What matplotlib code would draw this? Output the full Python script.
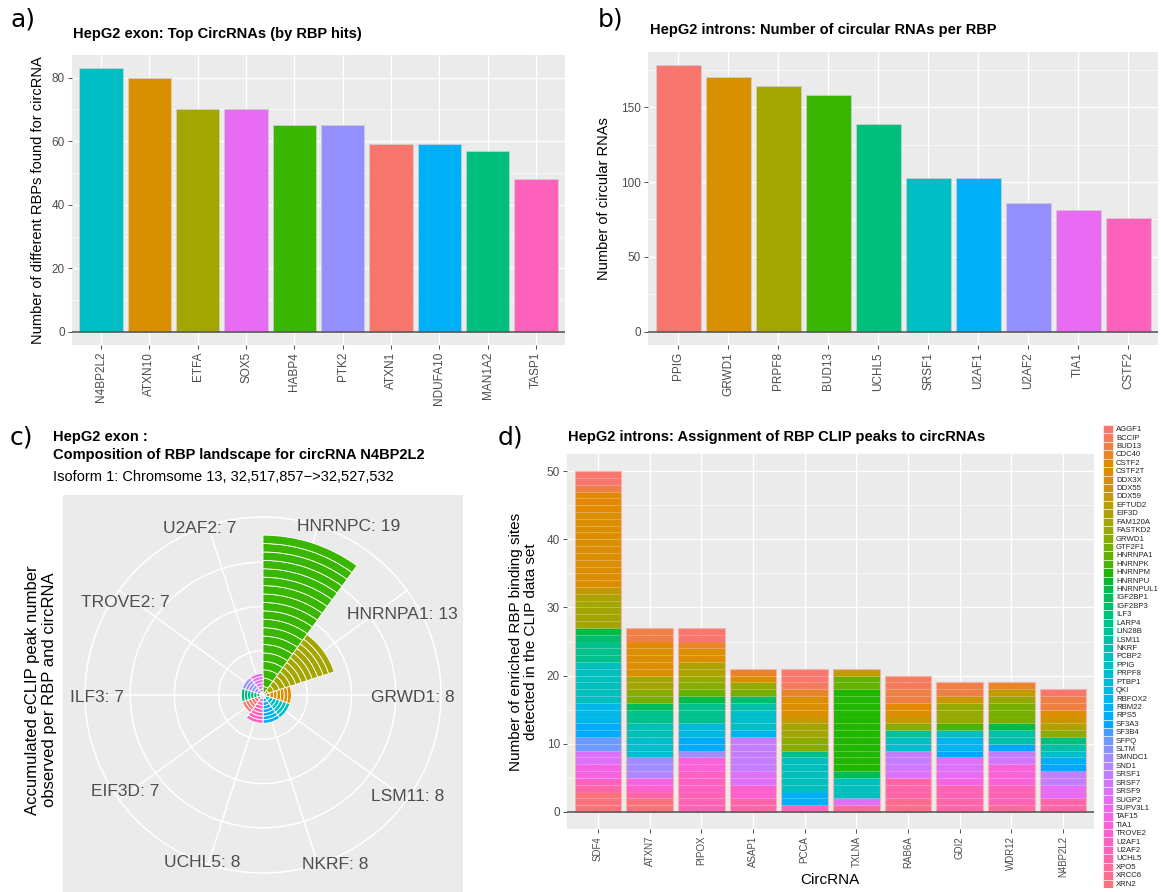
import numpy as np
import matplotlib
matplotlib.use('Agg')
import matplotlib.pyplot as plt
from matplotlib.patches import Rectangle

plt.rcParams['font.family'] = ['Liberation Sans', 'DejaVu Sans']

# ---------------- data ----------------
# a) HepG2 exon: top circRNAs by RBP hits
circ_a = ['N4BP2L2', 'ATXN10', 'ETFA', 'SOX5', 'HABP4', 'PTK2', 'ATXN1', 'NDUFA10', 'MAN1A2', 'TASP1']
hits_a = [83, 80, 70, 70, 65, 65, 59, 59, 57, 48]

# b) HepG2 introns: circular RNAs per RBP
rbp_b = ['PPIG', 'GRWD1', 'PRPF8', 'BUD13', 'UCHL5', 'SRSF1', 'U2AF1', 'U2AF2', 'TIA1', 'CSTF2']
ncirc_b = [178, 170, 164, 158, 139, 103, 103, 86, 81, 76]

# c) RBP landscape for circRNA N4BP2L2 (polar)
rbp_c = ['HNRNPC', 'HNRNPA1', 'GRWD1', 'LSM11', 'NKRF', 'UCHL5', 'EIF3D', 'ILF3', 'TROVE2', 'U2AF2']
peaks_c = [19, 13, 8, 8, 8, 8, 7, 7, 7, 7]
seg_height_c = [0.95, 0.65, 0.40, 0.40, 0.40, 0.40, 0.35, 0.35, 0.35, 0.35]
# label placement (angle in degrees, radius in r units)
label_ang_c = [27, 60, 91, 125, 157, 200, 235, 269, 304, 339]
label_rad_c = [21.3, 18.2, 16.9, 19.9, 20.8, 20.1, 19.0, 18.7, 18.7, 20.1]

# d) HepG2 introns: RBP CLIP peaks per circRNA
rbp_levels = ['AGGF1', 'BCCIP', 'BUD13', 'CDC40', 'CSTF2', 'CSTF2T', 'DDX3X', 'DDX55', 'DDX59',
              'EFTUD2', 'EIF3D', 'FAM120A', 'FASTKD2', 'GRWD1', 'GTF2F1', 'HNRNPA1', 'HNRNPK',
              'HNRNPM', 'HNRNPU', 'HNRNPUL1', 'IGF2BP1', 'IGF2BP3', 'ILF3', 'LARP4', 'LIN28B',
              'LSM11', 'NKRF', 'PCBP2', 'PPIG', 'PRPF8', 'PTBP1', 'QKI', 'RBFOX2', 'RBM22',
              'RPS5', 'SF3A3', 'SF3B4', 'SFPQ', 'SLTM', 'SMNDC1', 'SND1', 'SRSF1', 'SRSF7',
              'SRSF9', 'SUGP2', 'SUPV3L1', 'TAF15', 'TIA1', 'TROVE2', 'U2AF1', 'U2AF2', 'UCHL5',
              'XPO5', 'XRCC6', 'XRN2']
circ_d = ['SDF4', 'ATXN7', 'PIPOX', 'ASAP1', 'PCCA', 'TXLNA', 'RAB6A', 'GDI2', 'WDR12', 'N4BP2L2']
# (RBP, peaks); top of each stack first
peaks_sdf4 = [('AGGF1', 2), ('BUD13', 1), ('CSTF2', 3), ('CSTF2T', 11), ('DDX59', 1), ('EIF3D', 1),
              ('FAM120A', 4), ('HNRNPUL1', 1), ('IGF2BP3', 1), ('LARP4', 3), ('PCBP2', 6), ('QKI', 3),
              ('RPS5', 2), ('SFPQ', 2), ('SRSF9', 2), ('TAF15', 2), ('U2AF1', 1), ('UCHL5', 1), ('XRN2', 3)]
peaks_atxn7 = [('BUD13', 2), ('CSTF2', 1), ('CSTF2T', 4), ('FAM120A', 2), ('GRWD1', 1), ('GTF2F1', 1),
               ('IGF2BP1', 1), ('LARP4', 2), ('NKRF', 2), ('PPIG', 2), ('PRPF8', 1), ('SMNDC1', 2),
               ('SND1', 1), ('TAF15', 1), ('TROVE2', 1), ('UCHL5', 1), ('XRN2', 2)]
peaks_pipox = [('AGGF1', 2), ('CDC40', 1), ('CSTF2T', 2), ('EIF3D', 2), ('FASTKD2', 1), ('GRWD1', 1),
               ('HNRNPA1', 1), ('HNRNPUL1', 1), ('LARP4', 3), ('PTBP1', 2), ('RPS5', 2), ('SMNDC1', 1),
               ('TIA1', 2), ('U2AF1', 3), ('U2AF2', 3)]
peaks_asap1 = [('CDC40', 1), ('CSTF2T', 1), ('FASTKD2', 1), ('GTF2F1', 1), ('IGF2BP3', 1), ('LSM11', 1),
               ('PPIG', 3), ('RBFOX2', 1), ('SRSF1', 5), ('SRSF9', 2), ('TROVE2', 2), ('UCHL5', 2)]
peaks_pcca = [('AGGF1', 2), ('BCCIP', 1), ('CDC40', 1), ('CSTF2T', 3), ('DDX59', 1), ('FAM120A', 2),
              ('GRWD1', 2), ('LARP4', 1), ('PCBP2', 5), ('RBM22', 2), ('U2AF2', 1)]
peaks_txlna = [('DDX59', 1), ('HNRNPA1', 2), ('HNRNPM', 12), ('IGF2BP1', 1), ('PCBP2', 3),
               ('SRSF9', 1), ('XPO5', 1)]
peaks_rab6a = [('BCCIP', 2), ('BUD13', 2), ('CSTF2', 1), ('CSTF2T', 1), ('DDX59', 1), ('GRWD1', 1),
               ('LIN28B', 1), ('PCBP2', 1), ('PPIG', 1), ('SRSF1', 2), ('SRSF7', 1), ('SRSF9', 1),
               ('UCHL5', 3), ('XRCC6', 2)]
peaks_gdi2 = [('BUD13', 2), ('DDX55', 1), ('FASTKD2', 3), ('HNRNPK', 1), ('PCBP2', 1), ('RBFOX2', 2),
              ('SF3A3', 1), ('SRSF9', 2), ('SUGP2', 1), ('TAF15', 1), ('U2AF2', 2), ('UCHL5', 2)]
peaks_wdr12 = [('CDC40', 1), ('DDX59', 1), ('FASTKD2', 1), ('GTF2F1', 3), ('HNRNPUL1', 1), ('LSM11', 2),
               ('SF3A3', 1), ('SRSF1', 1), ('SRSF7', 1), ('TIA1', 3), ('U2AF2', 3), ('XPO5', 1)]
peaks_n4bp2l2 = [('AGGF1', 1), ('BUD13', 2), ('CSTF2T', 1), ('DDX55', 1), ('EIF3D', 1), ('GRWD1', 1),
                 ('ILF3', 1), ('LSM11', 1), ('PPIG', 1), ('RBM22', 1), ('SF3A3', 1), ('SRSF1', 2),
                 ('SUGP2', 2), ('UCHL5', 2)]
peaks_d = [peaks_sdf4, peaks_atxn7, peaks_pipox, peaks_asap1, peaks_pcca,
           peaks_txlna, peaks_rab6a, peaks_gdi2, peaks_wdr12, peaks_n4bp2l2]


# ggplot2 default hue palette (hcl, c=100, l=65)
def hcl_hex(h, c=100.0, l=65.0):
    hr = np.deg2rad(h)
    U, V = c * np.cos(hr), c * np.sin(hr)
    Y = 100.0 * ((l + 16) / 116.0) ** 3
    u = U / (13 * l) + 0.1978398
    v = V / (13 * l) + 0.4683363
    X = 9.0 * Y * u / (4 * v)
    Z = -X / 3 - 5 * Y + 3 * Y / v
    rgb = [(3.240479 * X - 1.537150 * Y - 0.498535 * Z) / 100,
           (-0.969256 * X + 1.875992 * Y + 0.041556 * Z) / 100,
           (0.055648 * X - 0.204043 * Y + 1.057311 * Z) / 100]
    out = []
    for ch in rgb:
        ch = 12.92 * ch if ch <= 0.0031308 else 1.055 * ch ** (1 / 2.4) - 0.055
        out.append(min(max(ch, 0), 1))
    return tuple(out)


def hue_pal(n):
    return [hcl_hex(h) for h in np.linspace(15, 375, n + 1)[:-1]]


W, H = 1161, 892
fig = plt.figure(figsize=(W / 100, H / 100), dpi=100)


def px_axes(x0, y0, x1, y1, **kw):
    return fig.add_axes([x0 / W, 1 - y1 / H, (x1 - x0) / W, (y1 - y0) / H], **kw)


def gg_style(ax, n, ylim, major, minor, labels, xsize=8.5):
    ax.set_facecolor('#EBEBEB')
    for s in ax.spines.values():
        s.set_visible(False)
    ax.set_xlim(-0.6, n - 0.4)
    ax.set_ylim(ylim)
    ax.set_yticks(major)
    ax.set_yticks(minor, minor=True)
    ax.set_xticks(range(n))
    ax.set_xticklabels(labels, rotation=90, va='top', ha='center')
    ax.grid(which='major', color='white', lw=1.0)
    ax.grid(which='minor', axis='y', color='white', lw=0.5)
    ax.set_axisbelow(True)
    ax.tick_params(which='minor', length=0)
    ax.tick_params(which='major', length=3, width=0.6, color='#333333',
                   labelcolor='#4D4D4D', labelsize=8.5, pad=2)
    ax.tick_params(axis='x', labelsize=xsize)
    ax.axhline(0, color='#5A5A5A', lw=1.2, zorder=4)


def tag(x, y, s):
    fig.text(x / W, 1 - y / H, s, fontsize=18, family='DejaVu Sans', ha='left', va='center')


def title(x, y, s, bold=True, size=10.5):
    fig.text(x / W, 1 - y / H, s, fontsize=size, fontweight='bold' if bold else 'normal',
             ha='left', va='center')


# ---------------- a ----------------
pal10 = hue_pal(10)
order_a = sorted(circ_a)
cols_a = [pal10[order_a.index(c)] for c in circ_a]
ax = px_axes(72, 55, 565, 345)
ax.bar(range(len(circ_a)), hits_a, width=0.9, color=cols_a, edgecolor='#D0D0D0', lw=0.5, zorder=2)
gg_style(ax, 10, (-4.15, 87.15), [0, 20, 40, 60, 80], [10, 30, 50, 70], circ_a)
ax.set_ylabel('Number of different RBPs found for circRNA', fontsize=10.5, labelpad=5)
tag(10, 20, 'a)')
title(73, 34, 'HepG2 exon: Top CircRNAs (by RBP hits)')

# ---------------- b ----------------
ax = px_axes(648, 52, 1158, 345)
ax.bar(range(len(rbp_b)), ncirc_b, width=0.9, color=pal10, edgecolor='#D0D0D0', lw=0.5, zorder=2)
gg_style(ax, 10, (-8.9, 186.9), [0, 50, 100, 150], [25, 75, 125, 175], rbp_b)
ax.set_ylabel('Number of circular RNAs', fontsize=10.5, labelpad=7)
tag(598, 20, 'b)')
title(650, 30, 'HepG2 introns: Number of circular RNAs per RBP')

# ---------------- c ----------------
fig.patches.append(Rectangle((63 / W, 1 - 895 / H), 400 / W, 400 / H, transform=fig.transFigure,
                             facecolor='#EBEBEB', edgecolor='none', zorder=-5))
order_c = sorted(rbp_c)
cols_c = [pal10[order_c.index(r)] for r in rbp_c]
axc = px_axes(85, 517, 441, 873, projection='polar')
axc.set_zorder(2)
axc.set_theta_zero_location('N')
axc.set_theta_direction(-1)
axc.set_facecolor('none')
width = 2 * np.pi / len(rbp_c)
centers = width * (np.arange(len(rbp_c)) + 0.5)
for i, (cnt, sh) in enumerate(zip(peaks_c, seg_height_c)):
    for k in range(cnt):
        axc.bar(centers[i], sh, width=width, bottom=k * sh, color=cols_c[i],
                edgecolor='white', lw=0.6, zorder=3)
axc.set_ylim(0, 20.1)
axc.set_yticks([5, 10, 15])
axc.set_yticklabels([])
axc.set_xticks(centers)
axc.set_xticklabels([])
axc.grid(color='white', lw=1.1)
axc.set_axisbelow(True)
axc.spines['polar'].set_color('white')
axc.spines['polar'].set_linewidth(1.1)
axc.tick_params(length=0)
for r, p, a, rad in zip(rbp_c, peaks_c, label_ang_c, label_rad_c):
    axc.text(np.deg2rad(a), rad, f'{r}: {p}', fontsize=12.5, color='#4D4D4D',
             ha='center', va='center', clip_on=False)
fig.text(41 / W, 1 - 690 / H, 'Accumulated eCLIP peak number\nobserved per RBP and circRNA',
         rotation=90, fontsize=12, ha='center', va='center', linespacing=1.15)
tag(10, 437, 'c)')
title(53, 437, 'HepG2 exon :')
title(53, 455, 'Composition of RBP landscape for circRNA N4BP2L2')
title(53, 477, 'Isoform 1: Chromsome 13, 32,517,857\u2212>32,527,532', bold=False, size=10.5)

# ---------------- d ----------------
pal55 = hue_pal(len(rbp_levels))
ax = px_axes(567, 454, 1094, 829)
for i, stack in enumerate(peaks_d):
    bottom = 0
    for rbp, n in reversed(stack):
        col = pal55[rbp_levels.index(rbp)]
        for k in range(n):
            ax.bar(i, 1, bottom=bottom, width=0.9, color=col, edgecolor=(1, 1, 1, 0.07),
                   lw=0.5, zorder=2)
            bottom += 1
    ax.bar(i, bottom, width=0.9, fill=False, edgecolor='#F4B4AC', lw=0.8, zorder=3)
gg_style(ax, 10, (-2.5, 52.5), [0, 10, 20, 30, 40, 50], [5, 15, 25, 35, 45], circ_d, xsize=7)
ax.set_ylabel('Number of enriched RBP binding sites\ndetected in the CLIP data set', fontsize=11,
              labelpad=6, linespacing=1.1)
fig.text(830 / W, 1 - 880 / H, 'CircRNA', fontsize=11, ha='center', va='center')
tag(498, 437, 'd)')
title(568, 437, 'HepG2 introns: Assignment of RBP CLIP peaks to circRNAs')

# legend for d
axl = px_axes(1100, 425, 1161, 888)
axl.set_xlim(0, 61)
axl.set_ylim(len(rbp_levels), 0)
axl.axis('off')
for j, (name, col) in enumerate(zip(rbp_levels, pal55)):
    axl.add_patch(Rectangle((3, j), 10, 1, facecolor=col, edgecolor='white', lw=0.4))
    axl.text(16, j + 0.55, name, fontsize=5.6, va='center', ha='left', color='#222222')

fig.savefig('out.png', dpi=100)
